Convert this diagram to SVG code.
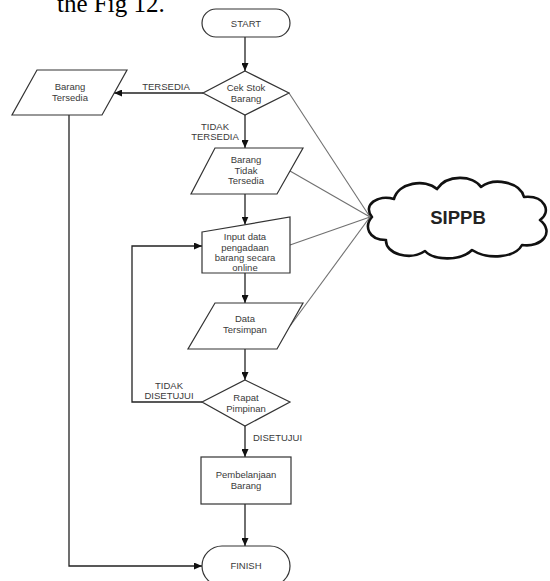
<svg xmlns="http://www.w3.org/2000/svg" width="550" height="581" viewBox="0 0 550 581">
  <style>
    .shape { fill: #fff; stroke: #333; stroke-width: 1.2; }
    .lbl { font-family: "Liberation Sans", Arial, sans-serif; font-size: 9.5px; fill: #3a3a3a; text-anchor: middle; }
    .flow { fill: none; stroke: #222; stroke-width: 1.3; marker-end: url(#arrow); }
    .link { fill: none; stroke: #707070; stroke-width: 1.1; }
  </style>
  <defs>
    <marker id="arrow" markerUnits="userSpaceOnUse" markerWidth="8" markerHeight="7" refX="8" refY="3.5" orient="auto">
      <path d="M0,0 L8,3.5 L0,7 z" fill="#111"/>
    </marker>
  </defs>
  <rect width="550" height="581" fill="#fff"/>

  <!-- caption line running off the top edge -->
  <text x="57" y="12" font-family="'Liberation Serif', 'Times New Roman', serif" font-size="25" fill="#000">the Fig 12.</text>

  <!-- connectors -->
  <g id="connectors">
    <path class="flow" d="M245,37 L245,71"/>
    <path class="flow" d="M203,93 L114,93"/>
    <path class="flow" d="M245,115 L245,148"/>
    <path class="flow" d="M245,194 L245,224.5"/>
    <path class="flow" d="M245,273 L245,303"/>
    <path class="flow" d="M245,349 L245,380"/>
    <path class="flow" d="M202,402 L132,402 L132,246 L202,246"/>
    <path class="flow" d="M245,426 L245,457"/>
    <path class="flow" d="M245,504 L245,546"/>
    <path class="flow" d="M69,115 L69,566 L202,566"/>
    <!-- system links to the cloud -->
    <path class="link" d="M289,93 L370,217"/>
    <path class="link" d="M290,171 L370,217"/>
    <path class="link" d="M290,245 L370,217"/>
    <path class="link" d="M290,326 L370,217"/>
    <!-- branch labels -->
    <text class="lbl" x="166" y="90">TERSEDIA</text>
    <text class="lbl" x="215" y="130">TIDAK</text>
    <text class="lbl" x="215" y="140">TERSEDIA</text>
    <text class="lbl" x="169" y="389">TIDAK</text>
    <text class="lbl" x="169" y="399">DISETUJUI</text>
    <text class="lbl" x="253" y="441" style="text-anchor:start">DISETUJUI</text>
  </g>

  <g id="start">
    <rect class="shape" x="202" y="9" width="88" height="28" rx="14"/>
    <text class="lbl" x="246" y="26.5">START</text>
  </g>

  <g id="cek-stok">
    <path class="shape" d="M245,71 L289,93 L245,115 L203,93 Z"/>
    <text class="lbl" x="246" y="91">Cek Stok</text>
    <text class="lbl" x="246" y="102">Barang</text>
  </g>

  <g id="barang-tersedia">
    <path class="shape" d="M37,70 L127,70 L102,115 L12,115 Z"/>
    <text class="lbl" x="70" y="90">Barang</text>
    <text class="lbl" x="70" y="101">Tersedia</text>
  </g>

  <g id="barang-tidak-tersedia">
    <path class="shape" d="M215,148 L303,148 L277,194 L191,194 Z"/>
    <text class="lbl" x="246" y="163">Barang</text>
    <text class="lbl" x="246" y="173.5">Tidak</text>
    <text class="lbl" x="246" y="184">Tersedia</text>
  </g>

  <g id="input-data">
    <path class="shape" d="M202,232 L290,217 L290,273 L202,273 Z"/>
    <text class="lbl" x="245" y="240">Input data</text>
    <text class="lbl" x="245" y="250.5">pengadaan</text>
    <text class="lbl" x="245" y="261">barang secara</text>
    <text class="lbl" x="245" y="271">online</text>
  </g>

  <g id="data-tersimpan">
    <path class="shape" d="M215,303 L303,303 L277,349 L188,349 Z"/>
    <text class="lbl" x="245" y="322">Data</text>
    <text class="lbl" x="245" y="333">Tersimpan</text>
  </g>

  <g id="rapat-pimpinan">
    <path class="shape" d="M245,380 L290,402 L245,426 L202,402 Z"/>
    <text class="lbl" x="246" y="401">Rapat</text>
    <text class="lbl" x="246" y="411.5">Pimpinan</text>
  </g>

  <g id="pembelanjaan">
    <rect class="shape" x="201" y="457" width="90" height="47"/>
    <text class="lbl" x="246" y="478">Pembelanjaan</text>
    <text class="lbl" x="246" y="489">Barang</text>
  </g>

  <g id="finish">
    <rect class="shape" x="202" y="546" width="88" height="40" rx="20"/>
    <text class="lbl" x="246" y="568.5">FINISH</text>
  </g>

  <g id="sippb">
    <path d="M372,217 C362,205 378,194 394,199 C398,183 425,178 437,189 C447,174 473,175 481,187 C494,177 520,182 524,197 C545,195 552,212 540,220 C555,232 542,248 522,245 C515,258 488,260 472,250 C460,262 433,260 425,251 C410,261 385,254 386,240 C368,240 364,226 372,217 Z" fill="#fff" stroke="#111" stroke-width="2.6" stroke-linejoin="round"/>
    <text x="458" y="223.5" font-family="'Liberation Sans', Arial, sans-serif" font-size="18.5" font-weight="bold" fill="#222" text-anchor="middle">SIPPB</text>
  </g>
</svg>
